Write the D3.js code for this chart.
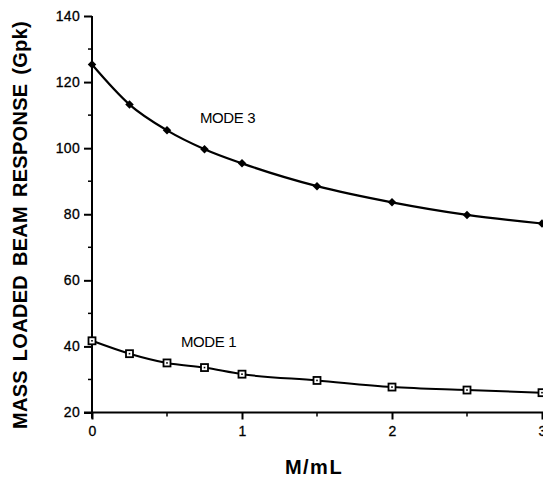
<!DOCTYPE html>
<html>
<head>
<meta charset="utf-8">
<script src="https://cdn.jsdelivr.net/npm/d3@7"></script>
<style>
  html, body { margin: 0; padding: 0; background: #fff; }
  svg { display: block; }
  text { font-family: "Liberation Sans", Arial, Helvetica, sans-serif; fill: #000; }
</style>
</head>
<body>
<script>
// Mass ratio M/mL at which the response was evaluated
const massRatio = [0, 0.25, 0.5, 0.75, 1, 1.5, 2, 2.5, 3];
// Peak response (Gpk) for each mode
const mode3 = [125.3, 113.2, 105.4, 99.7, 95.4, 88.5, 83.6, 79.8, 77.2];
const mode1 = [41.7, 37.8, 35.0, 33.6, 31.6, 29.7, 27.7, 26.8, 26.0];
const yTicks = [20, 40, 60, 80, 100, 120, 140];
const yMinorTicks = [30, 50, 70, 90, 110, 130];
const xTicks = [0, 1, 2, 3];
const xMinorTicks = [0.5, 1.5, 2.5];
const seriesLabels = ["MODE 3", "MODE 1"];
const xTitle = "M/mL";
const yTitle = "MASS LOADED BEAM RESPONSE (Gpk)";

const W = 543, H = 479;
const svg = d3.select("body").append("svg").attr("width", W).attr("height", H);

const x = d3.scaleLinear().domain([0, 3]).range([92, 542]);
const y = d3.scaleLinear().domain([20, 140]).range([412.5, 16]);

// axes
const yAxis = d3.axisLeft(y).tickValues(yTicks).tickSize(8).tickPadding(4).tickFormat(d3.format("d"));
const gy = svg.append("g").attr("transform", `translate(${x(0)},0)`).call(yAxis);
gy.select(".domain").attr("d", `M0,${y(140)}V${y(20) + 6}`);

const xAxis = d3.axisBottom(x).tickValues(xTicks).tickSize(7).tickPadding(7).tickFormat(d3.format("d"));
const gx = svg.append("g").attr("transform", `translate(0,${y(20)})`).call(xAxis);
gx.select(".domain").attr("d", `M${x(0) - 8},0H${W + 5}`);

[gx, gy].forEach(g => {
  g.selectAll(".domain").attr("stroke", "#000").attr("stroke-width", 2).attr("fill", "none");
  g.selectAll(".tick line").attr("stroke", "#000").attr("stroke-width", 2);
  g.selectAll(".tick text").style("font-size", "14px").attr("fill", "#000")
    .style("letter-spacing", "0.3px").attr("stroke", "#000").attr("stroke-width", 0.3);
});

// minor ticks
svg.append("g").selectAll("line").data(yMinorTicks).join("line")
  .attr("x1", x(0) - 4).attr("x2", x(0))
  .attr("y1", d => y(d)).attr("y2", d => y(d))
  .attr("stroke", "#000").attr("stroke-width", 1.5);
svg.append("g").selectAll("line").data(xMinorTicks).join("line")
  .attr("x1", d => x(d)).attr("x2", d => x(d))
  .attr("y1", y(20)).attr("y2", y(20) + 4)
  .attr("stroke", "#000").attr("stroke-width", 1.5);

// curves
const line = d3.line().x(d => x(d[0])).y(d => y(d[1])).curve(d3.curveMonotoneX);
const pts3 = massRatio.map((m, i) => [m, mode3[i]]);
const pts1 = massRatio.map((m, i) => [m, mode1[i]]);

svg.append("path").attr("d", line(pts3)).attr("fill", "none").attr("stroke", "#000").attr("stroke-width", 2.2);
svg.append("path").attr("d", line(pts1)).attr("fill", "none").attr("stroke", "#000").attr("stroke-width", 2);

// mode 3 markers: filled diamonds
const diamond = d3.symbol(d3.symbolSquare, 36)();
svg.append("g").selectAll("path").data(pts3).join("path")
  .attr("d", diamond)
  .attr("transform", d => `translate(${x(d[0])},${y(d[1])}) rotate(45)`)
  .attr("fill", "#000");

// mode 1 markers: open squares with a centre dot
const sq = svg.append("g").selectAll("g").data(pts1).join("g")
  .attr("transform", d => `translate(${x(d[0])},${y(d[1])})`);
sq.append("rect").attr("x", -3.5).attr("y", -3.5).attr("width", 7).attr("height", 7)
  .attr("fill", "#fff").attr("stroke", "#000").attr("stroke-width", 1.8);
sq.append("rect").attr("x", -0.8).attr("y", -0.8).attr("width", 1.6).attr("height", 1.6).attr("fill", "#000");

// series labels
svg.append("text").attr("x", 200).attr("y", 123).style("font-size", "15px").style("letter-spacing", "-0.4px").text(seriesLabels[0]);
svg.append("text").attr("x", 181).attr("y", 346.5).style("font-size", "15px").style("letter-spacing", "-0.4px").text(seriesLabels[1]);

// axis titles
svg.append("text").attr("x", 314).attr("y", 474).attr("text-anchor", "middle")
  .style("font-size", "20px").style("font-weight", "bold").style("letter-spacing", "1.5px")
  .text(xTitle);
svg.append("text").attr("transform", "translate(27,225) rotate(-90)").attr("text-anchor", "middle")
  .style("font-size", "20px").style("font-weight", "bold").style("letter-spacing", "0.3px").style("word-spacing", "3px")
  .text(yTitle);
</script>
</body>
</html>
